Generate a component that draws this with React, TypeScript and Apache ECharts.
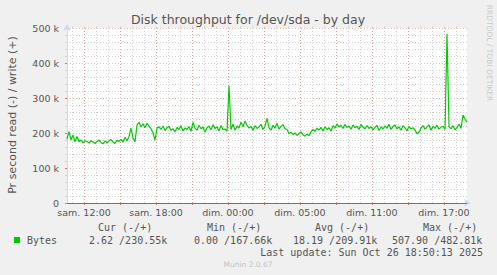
import React, { useEffect, useRef } from "react";
import * as echarts from "echarts";

const chartTitle = "Disk throughput for /dev/sda - by day";
const yAxisTitle = "Pr second read (-) / write (+)";
const sideCredit = "RRDTOOL / TOBI OETIKER";

// time in minutes relative to "sam. 12:00"
const startMinute = -85;
const endMinute = 1915;
const stepMinutes = 10;
const xLabelMinutes = [0, 360, 720, 1080, 1440, 1800];
const xLabels = ["sam. 12:00", "sam. 18:00", "dim. 00:00", "dim. 05:00", "dim. 11:00", "dim. 17:00"];
const majorGridStep = 180;
const minorGridStep = 60;

// write bytes per second (k), one sample per 10 minutes
const writeKBytes = [
  183, 204, 180, 194, 175, 190, 175, 180, 172, 178,
  176, 171, 178, 174, 170, 176, 180, 173, 169, 177,
  172, 178, 181, 175, 170, 179, 176, 182, 174, 188,
  178, 190, 214, 186, 175, 223, 230, 218, 226, 215,
  228, 220, 212, 200, 180, 214, 218, 210, 220, 207,
  215, 219, 208, 212, 203, 216, 210, 221, 206, 214,
  210, 218, 205, 230, 214, 208, 222, 212, 217, 203,
  215, 220, 209, 224, 213, 218, 206, 221, 210, 212,
  205, 335, 210, 225, 208, 220, 214, 231, 218, 234,
  222, 214, 219, 208, 221, 213, 217, 225, 210, 219,
  242, 215, 208, 222, 214, 228, 211, 219, 224, 213,
  210, 198, 202, 196, 200, 193, 199, 203, 195, 191,
  197, 192, 204, 210, 205, 214, 208, 216, 206, 218,
  210, 215, 205, 221, 214, 226, 217, 222, 213, 224,
  216, 220, 211, 223, 215, 219, 210, 225, 217, 212,
  221, 213, 218, 209, 216, 222, 207, 217, 212, 220,
  214, 225, 210, 219, 223, 212, 218, 208, 221, 215,
  206, 219, 212, 215, 209, 198, 203, 214, 221, 211,
  217, 223, 208, 219, 214, 222, 211, 217, 219, 210,
  483, 218, 212, 221, 209, 216, 225, 214, 251, 240, 231,
];

const yMax = 500000;
const yInterval = 100000;

const legendHeaders = ["Cur (-/+)", "Min (-/+)", "Avg (-/+)", "Max (-/+)"];
const legendSeriesName = "Bytes";
const legendValues = ["2.62 /230.55k", "0.00 /167.66k", "18.19 /209.91k", "507.90 /482.81k"];
const lastUpdate = "Last update: Sun Oct 26 18:50:13 2025";
const versionText = "Munin 2.0.67";

const seriesColor = "#00cc00";
const textColor = "#555555";
const axisBlue = "#cfd6f8";
const minorGridColor = "#d4d4d4";
const majorGridColor = "rgba(225,110,110,0.45)";

function gridValues(step: number) {
  const out: number[] = [];
  const first = Math.ceil(startMinute / step) * step;
  for (let v = first; v <= endMinute; v += step) out.push(v);
  return out;
}

export default function App() {
  const ref = useRef<HTMLDivElement>(null);
  useEffect(() => {
    if (!ref.current) return;
    const chart = echarts.init(ref.current, undefined, { renderer: "svg" });
    const data = writeKBytes.map((v, i) => [startMinute + i * stepMinutes, v * 1000]);
    const majors = gridValues(majorGridStep);
    const minors = gridValues(minorGridStep);
    const legendHeaderX = [98, 207, 315, 423];
    const legendValueX = [89, 194, 293, 392];
    const mono = "DejaVu Sans Mono";
    const sans = "DejaVu Sans";

    chart.setOption({
      animation: false,
      backgroundColor: "#f0f0f0",
      grid: {
        left: 67,
        top: 28,
        width: 400,
        height: 175,
        show: true,
        backgroundColor: "#ffffff",
        borderWidth: 0,
      },
      xAxis: [
        {
          type: "value",
          min: startMinute,
          max: endMinute,
          z: 2,
          axisLine: {
            show: true,
            onZero: false,
            lineStyle: { color: axisBlue, width: 1 },
            symbol: ["none", "arrow"],
            symbolSize: [6, 7],
            symbolOffset: [0, 4],
          },
          axisTick: {
            show: true,
            length: 2,
            customValues: majors,
            lineStyle: { color: "#e07070" },
          },
          axisLabel: {
            show: true,
            customValues: xLabelMinutes,
            formatter: (v: number) => xLabels[xLabelMinutes.indexOf(v)] ?? "",
            color: textColor,
            fontFamily: sans,
            fontSize: 9.5,
            margin: 4,
          },
          splitLine: {
            show: true,
            customValues: majors,
            lineStyle: { color: majorGridColor, type: [1, 2], width: 1 },
          },
        },
        {
          type: "value",
          min: startMinute,
          max: endMinute,
          z: 1,
          axisLine: { show: false, onZero: false },
          axisLabel: { show: false },
          axisTick: {
            show: true,
            length: 2,
            customValues: minors,
            lineStyle: { color: minorGridColor },
          },
          splitLine: {
            show: true,
            customValues: minors,
            lineStyle: { color: minorGridColor, type: [1, 2], width: 1 },
          },
        },
      ],
      yAxis: {
        type: "value",
        min: 0,
        max: yMax,
        interval: yInterval,
        axisLine: {
          show: true,
          onZero: false,
          lineStyle: { color: axisBlue, width: 1 },
          symbol: ["none", "arrow"],
          symbolSize: [6, 7],
          symbolOffset: [0, 4],
        },
        axisTick: { show: true, length: 2, lineStyle: { color: "#e07070" } },
        minorTick: { show: true, splitNumber: 5, length: 2, lineStyle: { color: minorGridColor } },
        axisLabel: {
          color: textColor,
          fontFamily: sans,
          fontSize: 9.5,
          margin: 8,
          formatter: (v: number) => (v === 0 ? "0" : `${v / 1000} k`),
        },
        splitLine: {
          show: true,
          lineStyle: { color: majorGridColor, type: [1, 2], width: 1 },
        },
        minorSplitLine: {
          show: true,
          lineStyle: { color: minorGridColor, type: [1, 2], width: 1 },
        },
      },
      series: [
        {
          name: legendSeriesName,
          type: "line",
          xAxisIndex: 0,
          data,
          showSymbol: false,
          symbol: "none",
          lineStyle: { color: seriesColor, width: 1.2 },
          z: 5,
          markLine: {
            silent: true,
            symbol: ["none", "none"],
            label: { show: false },
            lineStyle: { color: "#707088", type: "solid", width: 1 },
            data: [{ yAxis: 0 }],
          },
        },
      ],
      graphic: [
        {
          type: "text",
          x: 248,
          y: 19,
          style: {
            text: chartTitle,
            fill: textColor,
            font: `12.5px ${sans}`,
            align: "center",
            verticalAlign: "middle",
          },
        },
        {
          type: "text",
          x: 12,
          y: 115,
          rotation: Math.PI / 2,
          style: {
            text: yAxisTitle,
            fill: textColor,
            font: `11px ${sans}`,
            align: "center",
            verticalAlign: "middle",
          },
        },
        {
          type: "text",
          x: 489,
          y: 53,
          rotation: -Math.PI / 2,
          style: {
            text: sideCredit,
            fill: "#cccccc",
            font: `7.5px ${sans}`,
            align: "center",
            verticalAlign: "middle",
          },
        },
        ...legendHeaders.map((t, i) => ({
          type: "text",
          x: legendHeaderX[i],
          y: 227,
          style: { text: t, fill: textColor, font: `10px ${mono}`, align: "left", verticalAlign: "middle" },
        })),
        {
          type: "rect",
          shape: { x: 14, y: 237, width: 6, height: 6 },
          style: { fill: seriesColor },
        },
        {
          type: "text",
          x: 27,
          y: 240,
          style: { text: legendSeriesName, fill: textColor, font: `10px ${mono}`, align: "left", verticalAlign: "middle" },
        },
        ...legendValues.map((t, i) => ({
          type: "text",
          x: legendValueX[i],
          y: 240,
          style: { text: t, fill: textColor, font: `10px ${mono}`, align: "left", verticalAlign: "middle" },
        })),
        {
          type: "text",
          x: 483,
          y: 252,
          style: { text: lastUpdate, fill: textColor, font: `10px ${mono}`, align: "right", verticalAlign: "middle" },
        },
        {
          type: "text",
          x: 248,
          y: 264,
          style: { text: versionText, fill: "#c4c4c4", font: `7.5px ${sans}`, align: "center", verticalAlign: "middle" },
        },
      ],
    });
    return () => chart.dispose();
  }, []);
  return (
    <div
      ref={ref}
      style={{ position: "absolute", left: 0, top: 0, width: 497, height: 275 }}
    />
  );
}
